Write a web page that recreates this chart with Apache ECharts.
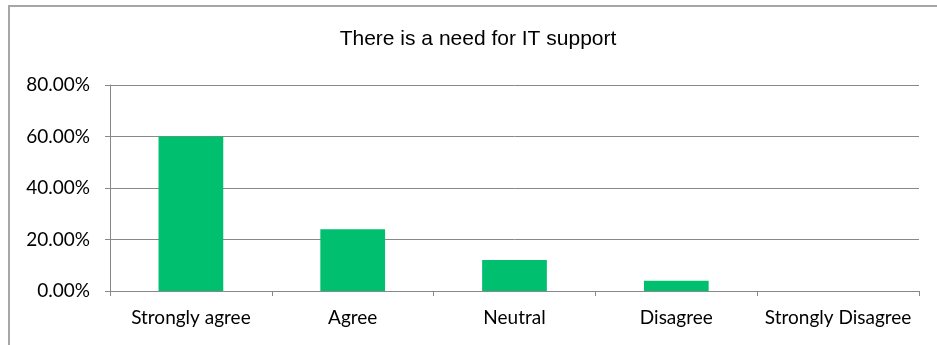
<!DOCTYPE html>
<html>
<head>
<meta charset="utf-8">
<script src="https://cdn.jsdelivr.net/npm/echarts@6/dist/echarts.min.js"></script>
<style>html,body{margin:0;padding:0;background:#fff;}#c{width:937px;height:345px;}</style>
</head>
<body>
<div id="c"></div>
<script>
const titleText = 'There is a need for IT support';
const categories = ['Strongly agree', 'Agree', 'Neutral', 'Disagree', 'Strongly Disagree'];
const values = [0.60, 0.24, 0.12, 0.04, 0.0];
const yTicks = { min: 0, max: 0.8, interval: 0.2 };

const chart = echarts.init(document.getElementById('c'), null, { renderer: 'canvas' });
chart.setOption({
  animation: false,
  backgroundColor: '#ffffff',
  title: {
    text: titleText,
    left: 478,
    top: 29,
    padding: 0,
    textAlign: 'center',
    textStyle: { fontFamily: 'Liberation Sans', fontSize: 21, fontWeight: 'normal', color: '#000000' }
  },
  graphic: [{
    type: 'rect',
    shape: { x: 9, y: 6, width: 1000, height: 400 },
    style: { fill: 'none', stroke: '#a6a6a6', lineWidth: 2 },
    silent: true
  }],
  grid: { left: 110, right: 18, top: 85, bottom: 54, containLabel: false },
  xAxis: {
    type: 'category',
    data: categories,
    boundaryGap: true,
    axisLine: { show: true, lineStyle: { color: '#888888', width: 1 } },
    axisTick: { show: true, length: 5, alignWithLabel: false, lineStyle: { color: '#888888' } },
    axisLabel: { margin: 17, fontFamily: 'Lato', fontSize: 19, color: '#000000', interval: 0 }
  },
  yAxis: {
    type: 'value',
    min: yTicks.min,
    max: yTicks.max,
    interval: yTicks.interval,
    axisLine: { show: true, lineStyle: { color: '#888888', width: 1 } },
    axisTick: { show: true, length: 5, lineStyle: { color: '#888888' } },
    splitLine: { show: true, lineStyle: { color: '#888888', width: 1 } },
    axisLabel: {
      margin: 20,
      fontFamily: 'Lato', fontSize: 19, color: '#000000',
      formatter: v => (v * 100).toFixed(2) + '%'
    }
  },
  series: [{
    type: 'bar',
    data: values,
    barWidth: '40%',
    itemStyle: { color: '#00BF6F' }
  }]
});
</script>
</body>
</html>
